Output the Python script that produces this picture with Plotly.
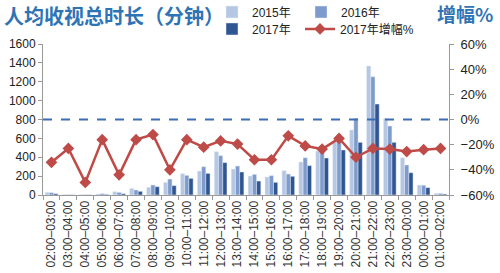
import plotly.graph_objects as go

categories = ["02:00–03:00", "03:00–04:00", "04:00–05:00", "05:00–06:00", "06:00–07:00",
              "07:00–08:00", "08:00–09:00", "09:00–10:00", "10:00–11:00", "11:00–12:00",
              "12:00–13:00", "13:00–14:00", "14:00–15:00", "15:00–16:00", "16:00–17:00",
              "17:00–18:00", "18:00–19:00", "19:00–20:00", "20:00–21:00", "21:00–22:00",
              "22:00–23:00", "23:00–00:00", "00:00–01:00", "01:00–02:00"]

v2015 = [28, 4, 3, 11, 35, 70, 81, 134, 226, 254, 459, 275, 201, 191, 258, 350, 466, 561, 689, 1366, 812, 395, 106, 18]
v2016 = [25, 3, 3, 14, 28, 53, 106, 169, 208, 300, 417, 307, 219, 205, 222, 395, 494, 582, 812, 1253, 731, 318, 103, 17]
v2017 = [14, 2, 2, 7, 14, 39, 88, 99, 176, 229, 343, 244, 148, 134, 198, 311, 392, 477, 558, 964, 558, 236, 78, 10]
growth2017 = [-34, -23, -50, -16, -44, -16, -12, -40, -16, -22, -17, -19.5, -32, -32, -13, -21, -23.5, -15, -30, -23, -23.5, -25.5, -24, -23]

left_ticks = [0, 200, 400, 600, 800, 1000, 1200, 1400, 1600]
right_ticks = [-60, -40, -20, 0, 20, 40, 60]
right_ticktext = ["−60%", "−40%", "−20%", "0%", "20%", "40%", "60%"]

c15 = "#b6c7e3"
c16 = "#7e9bcb"
c17 = "#2f5592"
cred = "#be4b48"
blue = "#2e74b5"
font_family = "Liberation Sans, Arial, Noto Sans CJK SC, sans-serif"

fig = go.Figure()
fig.add_trace(go.Bar(x=categories, y=v2015, name="2015年", marker_color=c15, legend="legend"))
fig.add_trace(go.Bar(x=categories, y=v2016, name="2016年", marker_color=c16, legend="legend"))
fig.add_trace(go.Bar(x=categories, y=v2017, name="2017年", marker_color=c17, legend="legend2"))
fig.add_trace(go.Scatter(x=categories, y=growth2017, name="2017年增幅%", yaxis="y2",
                         mode="lines+markers", line=dict(color=cred, width=2.5),
                         marker=dict(symbol="diamond", size=9, color=cred), legend="legend3"))

fig.add_shape(type="line", xref="paper", x0=0, x1=1, yref="y", y0=800, y1=800,
              line=dict(color="#3a6db3", width=2, dash="dash"))

legend_common = dict(orientation="h", xref="container", yref="container",
                     xanchor="left", yanchor="middle", itemwidth=30,
                     font=dict(size=12, color="#222"), bgcolor="rgba(0,0,0,0)",
                     tracegroupgap=0, traceorder="normal")

fig.update_layout(
    width=500, height=273,
    margin=dict(l=43, r=51, t=44, b=78, autoexpand=False),
    paper_bgcolor="white", plot_bgcolor="white",
    font=dict(family=font_family, size=12, color="#222"),
    barmode="group", bargap=0.25, bargroupgap=0,
    title=dict(text="<b>人均收视总时长（分钟）</b>", x=0.008, xanchor="left", xref="container",
               y=0.937, yanchor="middle", yref="container",
               font=dict(size=20, color=blue, family="Noto Sans CJK SC, sans-serif")),
    xaxis=dict(type="category", tickangle=-90, tickfont=dict(size=12, color="#333"),
               showline=True, linecolor="#999", linewidth=1, ticks="outside", ticklen=4,
               tickcolor="#999", tickson="boundaries", showgrid=False, range=[-0.5, 23.5],
               automargin=False),
    yaxis=dict(range=[0, 1600], tickvals=left_ticks, showgrid=False, zeroline=False,
               showline=True, linecolor="#999", ticks="outside", ticklen=4, tickcolor="#999",
               tickfont=dict(size=12, color="#222"), automargin=False),
    yaxis2=dict(range=[-60, 60], tickvals=right_ticks, ticktext=right_ticktext,
                overlaying="y", side="right",
                showgrid=False, zeroline=False, showline=True, linecolor="#999", ticks="outside",
                ticklen=4, tickcolor="#999", tickfont=dict(size=13, color="#222"),
                automargin=False, ticklabelstandoff=4),
    legend=dict(x=0.424, y=0.956, entrywidth=44, **legend_common),
    legend2=dict(x=0.424, y=0.894, **legend_common),
    legend3=dict(x=0.6, y=0.894, **legend_common),
    annotations=[dict(text="<b>增幅%</b>", xref="paper", yref="paper", x=0.965, y=1.2,
                      xanchor="left", yanchor="middle", showarrow=False,
                      font=dict(size=19, color=blue, family="Noto Sans CJK SC, sans-serif"))],
)

fig.write_html("out.html")
